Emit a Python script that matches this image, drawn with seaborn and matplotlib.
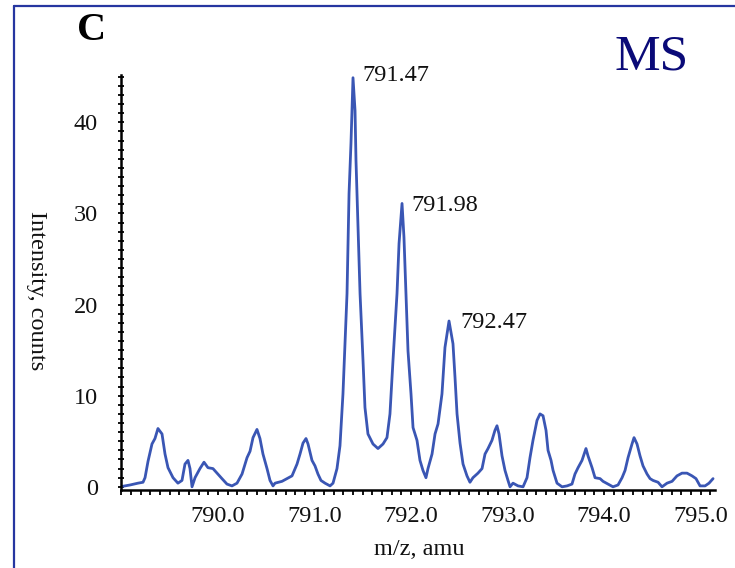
import numpy as np
import pandas as pd
import matplotlib
matplotlib.use("Agg")
import matplotlib.pyplot as plt
from matplotlib.ticker import MultipleLocator
from matplotlib.lines import Line2D
import seaborn as sns

# ---- data (m/z in amu, intensity in counts) ----
mz = [788.984, 789.088, 789.171, 789.223, 789.244, 789.275, 789.316, 789.347, 789.378, 789.420,
      789.451, 789.482, 789.534, 789.585, 789.627, 789.658, 789.689, 789.710, 789.731, 789.762,
      789.813, 789.855, 789.896, 789.948, 789.990, 790.041, 790.093, 790.145, 790.197, 790.249,
      790.301, 790.332, 790.363, 790.404, 790.435, 790.466, 790.508, 790.539, 790.570, 790.591,
      790.663, 790.715, 790.767, 790.819, 790.850, 790.881, 790.912, 790.933, 790.974, 791.005,
      791.036, 791.067, 791.109, 791.161, 791.192, 791.233, 791.264, 791.295, 791.337, 791.358,
      791.378, 791.399, 791.420, 791.430, 791.451, 791.472, 791.503, 791.523, 791.554, 791.606,
      791.658, 791.710, 791.751, 791.782, 791.813, 791.855, 791.876, 791.907, 791.927, 791.948,
      791.969, 792.000, 792.021, 792.062, 792.093, 792.124, 792.155, 792.176, 792.218, 792.249,
      792.280, 792.321, 792.352, 792.394, 792.435, 792.456, 792.477, 792.508, 792.539, 792.580,
      792.611, 792.642, 792.694, 792.736, 792.767, 792.798, 792.839, 792.870, 792.891, 792.912,
      792.943, 792.974, 793.005, 793.026, 793.057, 793.109, 793.161, 793.202, 793.233, 793.264,
      793.306, 793.337, 793.368, 793.399, 793.420, 793.451, 793.472, 793.513, 793.565, 793.617,
      793.668, 793.699, 793.731, 793.772, 793.813, 793.834, 793.876, 793.907, 793.959, 793.990,
      794.041, 794.093, 794.145, 794.187, 794.218, 794.249, 794.290, 794.311, 794.342, 794.373,
      794.404, 794.446, 794.477, 794.508, 794.560, 794.601, 794.653, 794.705, 794.756, 794.808,
      794.860, 794.912, 794.953, 794.995, 795.047, 795.088, 795.130]
intensity = [0.0, 0.2, 0.4, 0.5, 1.0, 2.8, 4.7, 5.3, 6.4, 5.8,
             3.6, 2.1, 1.0, 0.4, 0.7, 2.5, 2.9, 2.0, 0.0, 1.0,
             2.0, 2.7, 2.1, 2.0, 1.5, 0.9, 0.3, 0.1, 0.4, 1.4,
             3.2, 3.9, 5.4, 6.3, 5.3, 3.6, 2.0, 0.7, 0.1, 0.4,
             0.6, 0.9, 1.2, 2.5, 3.6, 4.8, 5.3, 4.7, 2.9, 2.3,
             1.4, 0.7, 0.4, 0.1, 0.4, 2.0, 4.5, 10.2, 21.2, 32.2,
             37.7, 44.9, 41.3, 35.8, 28.5, 21.2, 13.8, 8.7, 5.8, 4.7,
             4.2, 4.7, 5.4, 8.0, 13.8, 21.2, 26.7, 31.1, 27.4, 21.2,
             14.9, 10.2, 6.5, 5.1, 2.9, 1.8, 1.0, 2.0, 3.6, 5.8,
             6.9, 10.2, 15.3, 18.2, 15.7, 12.0, 8.0, 4.8, 2.5, 1.2,
             0.5, 1.0, 1.5, 2.0, 3.6, 4.2, 5.1, 6.2, 6.7, 5.8,
             3.4, 1.8, 0.7, 0.0, 0.4, 0.1, 0.0, 1.0, 3.2, 5.1,
             7.3, 8.0, 7.8, 6.2, 4.0, 2.9, 1.8, 0.4, 0.0, 0.1,
             0.3, 1.4, 2.1, 2.9, 4.2, 3.4, 2.1, 1.0, 0.9, 0.6,
             0.3, 0.0, 0.2, 1.0, 1.8, 3.2, 4.7, 5.4, 4.7, 3.4,
             2.3, 1.4, 0.9, 0.7, 0.5, 0.0, 0.4, 0.6, 1.2, 1.5,
             1.5, 1.2, 0.9, 0.1, 0.1, 0.4, 0.9]

peak_labels = ["791.47", "791.98", "792.47"]
peak_label_x = [791.492, 792.000, 792.508]
peak_label_y = [45.2, 30.9, 18.0]

x_ticks = [790.0, 791.0, 792.0, 793.0, 794.0, 795.0]
x_tick_labels = ["790.0", "791.0", "792.0", "793.0", "794.0", "795.0"]
y_ticks = [0, 10, 20, 30, 40]

df = pd.DataFrame({"mz": mz, "intensity": intensity})

sns.set_style("ticks")
plt.rcParams["font.family"] = ["Liberation Serif", "DejaVu Serif"]
plt.rcParams["text.color"] = "black"

fig = plt.figure(figsize=(7.35, 5.68), dpi=100)
ax = fig.add_axes([121 / 735, 1 - 490 / 568, (715 - 121) / 735, (490 - 75) / 568])

sns.lineplot(data=df, x="mz", y="intensity", ax=ax, sort=False, estimator=None,
             color="#3a56b4", linewidth=2.0)

ax.set_xlim(788.995, 795.15)
ax.set_ylim(-0.35, 45.2)

ax.set_xticks(x_ticks)
ax.set_xticklabels(x_tick_labels)
ax.set_yticks(y_ticks)
ax.xaxis.set_minor_locator(MultipleLocator(0.1))
ax.yaxis.set_minor_locator(MultipleLocator(1))

for s in ["top", "right"]:
    ax.spines[s].set_visible(False)
for s in ["left", "bottom"]:
    ax.spines[s].set_linewidth(1.8)
    ax.spines[s].set_color("black")

ax.tick_params(axis="x", which="both", direction="out", length=3.5, width=1.3,
               labelsize=17.5, pad=8, colors="black", labelcolor="#111111")
ax.tick_params(axis="y", which="both", direction="inout", length=5, width=1.3,
               labelsize=17.5, pad=14, colors="black", labelcolor="#111111")
ax.set_xlabel("")
ax.set_ylabel("")

for lab, lx, ly in zip(peak_labels, peak_label_x, peak_label_y):
    ax.text(lx, ly, lab, ha="left", va="center", fontsize=17.5, color="#111111")

fig.text(0.571, 0.032, "m/z, amu", ha="center", va="center", fontsize=17.5,
         color="#111111")
fig.text(0.050, 0.489, "Intensity, counts", ha="center", va="center",
         fontsize=17.5, rotation=270, color="#111111")
fig.text(0.125, 0.947, "C", ha="center", va="center", fontsize=29,
         fontweight="bold", color="black")
fig.text(0.887, 0.900, "MS", ha="center", va="center", fontsize=37,
         color="#0a0a78")

# blue frame (left and top edges visible)
fig.add_artist(Line2D([14 / 735, 14 / 735], [0, 1 - 6 / 568], transform=fig.transFigure,
                      color="#2636a0", linewidth=1.6))
fig.add_artist(Line2D([14 / 735, 1], [1 - 6 / 568, 1 - 6 / 568], transform=fig.transFigure,
                      color="#2636a0", linewidth=1.6))

fig.savefig("out.png", dpi=100)
